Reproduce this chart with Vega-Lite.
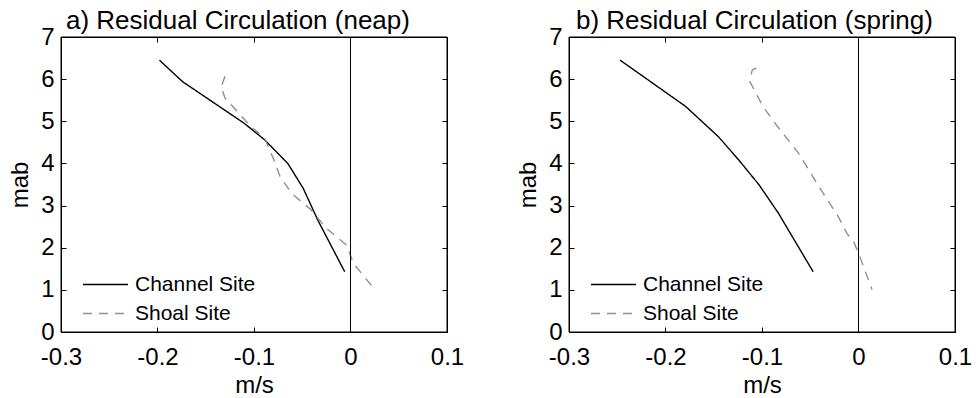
{
  "$schema": "https://vega.github.io/schema/vega-lite/v6.json",
  "background": "white",
  "padding": {"left": 8, "top": 7, "right": 0, "bottom": 0},
  "spacing": 122,
  "bounds": "flush",
  "config": {
    "font": "Liberation Sans",
    "axis": {
      "grid": false,
      "domainColor": "black",
      "tickColor": "black",
      "labelColor": "black",
      "titleColor": "black",
      "labelFont": "Liberation Sans",
      "titleFont": "Liberation Sans",
      "labelFontSize": 24,
      "titleFontSize": 24,
      "titleFontWeight": "normal",
      "tickSize": -5,
      "labelFlush": false,
      "labelOverlap": false,
      "labelBound": false
    },
    "legend": {
      "labelFont": "Liberation Sans",
      "labelFontSize": 21,
      "labelColor": "black"
    }
  },
  "datasets": {
    "box": [{"x0": -0.3, "x1": 0.1, "y0": 0, "y1": 7}],
    "profiles": [
      {"panel": "neap", "site": "Channel Site", "ms": -0.198, "mab": 6.45},
      {"panel": "neap", "site": "Channel Site", "ms": -0.174, "mab": 5.94},
      {"panel": "neap", "site": "Channel Site", "ms": -0.110, "mab": 4.95},
      {"panel": "neap", "site": "Channel Site", "ms": -0.089, "mab": 4.56},
      {"panel": "neap", "site": "Channel Site", "ms": -0.065, "mab": 4.0},
      {"panel": "neap", "site": "Channel Site", "ms": -0.049, "mab": 3.41},
      {"panel": "neap", "site": "Channel Site", "ms": -0.034, "mab": 2.66},
      {"panel": "neap", "site": "Channel Site", "ms": -0.006, "mab": 1.43},
      {"panel": "neap", "site": "Shoal Site", "ms": -0.130, "mab": 6.07},
      {"panel": "neap", "site": "Shoal Site", "ms": -0.134, "mab": 5.82},
      {"panel": "neap", "site": "Shoal Site", "ms": -0.130, "mab": 5.55},
      {"panel": "neap", "site": "Shoal Site", "ms": -0.103, "mab": 4.87},
      {"panel": "neap", "site": "Shoal Site", "ms": -0.089, "mab": 4.6},
      {"panel": "neap", "site": "Shoal Site", "ms": -0.080, "mab": 4.12},
      {"panel": "neap", "site": "Shoal Site", "ms": -0.073, "mab": 3.69},
      {"panel": "neap", "site": "Shoal Site", "ms": -0.061, "mab": 3.29},
      {"panel": "neap", "site": "Shoal Site", "ms": -0.041, "mab": 2.9},
      {"panel": "neap", "site": "Shoal Site", "ms": -0.025, "mab": 2.46},
      {"panel": "neap", "site": "Shoal Site", "ms": -0.004, "mab": 2.06},
      {"panel": "neap", "site": "Shoal Site", "ms": 0.003, "mab": 1.63},
      {"panel": "neap", "site": "Shoal Site", "ms": 0.025, "mab": 1.01},
      {"panel": "spring", "site": "Channel Site", "ms": -0.247, "mab": 6.45},
      {"panel": "spring", "site": "Channel Site", "ms": -0.179, "mab": 5.35},
      {"panel": "spring", "site": "Channel Site", "ms": -0.145, "mab": 4.63},
      {"panel": "spring", "site": "Channel Site", "ms": -0.124, "mab": 4.08},
      {"panel": "spring", "site": "Channel Site", "ms": -0.103, "mab": 3.49},
      {"panel": "spring", "site": "Channel Site", "ms": -0.083, "mab": 2.82},
      {"panel": "spring", "site": "Channel Site", "ms": -0.047, "mab": 1.43},
      {"panel": "spring", "site": "Shoal Site", "ms": -0.106, "mab": 6.27},
      {"panel": "spring", "site": "Shoal Site", "ms": -0.110, "mab": 6.22},
      {"panel": "spring", "site": "Shoal Site", "ms": -0.113, "mab": 5.96},
      {"panel": "spring", "site": "Shoal Site", "ms": -0.099, "mab": 5.35},
      {"panel": "spring", "site": "Shoal Site", "ms": -0.085, "mab": 4.91},
      {"panel": "spring", "site": "Shoal Site", "ms": -0.062, "mab": 4.24},
      {"panel": "spring", "site": "Shoal Site", "ms": -0.041, "mab": 3.45},
      {"panel": "spring", "site": "Shoal Site", "ms": -0.021, "mab": 2.74},
      {"panel": "spring", "site": "Shoal Site", "ms": -0.012, "mab": 2.34},
      {"panel": "spring", "site": "Shoal Site", "ms": -0.005, "mab": 2.14},
      {"panel": "spring", "site": "Shoal Site", "ms": 0.0, "mab": 1.87},
      {"panel": "spring", "site": "Shoal Site", "ms": 0.014, "mab": 1.01}
    ]
  },
  "hconcat": [
    {
      "width": 386,
      "height": 295,
      "title": {"text": "a) Residual Circulation (neap)", "fontSize": 26, "fontWeight": "normal", "color": "black", "anchor": "start", "frame": "group", "dx": 5, "offset": -9},
      "layer": [
        {
          "data": {"name": "box"},
          "mark": {"type": "rect", "filled": false, "stroke": "black", "strokeWidth": 1},
          "encoding": {
            "x": {"field": "x0", "type": "quantitative", "scale": {"domain": [-0.3, 0.1], "nice": false, "zero": false}, "axis": {"orient": "top", "values": [-0.3, -0.2, -0.1, 0, 0.1], "labels": false, "title": null}},
            "x2": {"field": "x1"},
            "y": {"field": "y0", "type": "quantitative", "scale": {"domain": [0, 7], "nice": false}, "axis": {"orient": "right", "values": [0, 1, 2, 3, 4, 5, 6, 7], "labels": false, "title": null}},
            "y2": {"field": "y1"}
          }
        },
        {
          "data": {"name": "profiles"},
          "transform": [{"filter": "datum.panel === 'neap'"}],
          "mark": {"type": "line", "strokeWidth": 1.4},
          "encoding": {
            "x": {"field": "ms", "type": "quantitative", "title": "m/s",
              "axis": {"orient": "bottom", "values": [-0.3, -0.2, -0.1, 0, 0.1], "labelPadding": 18, "titlePadding": 4, "labelExpr": "replace(format(datum.value, '.1~f'), '\u2212', '-')"}},
            "y": {"field": "mab", "type": "quantitative", "title": "mab",
              "axis": {"orient": "left", "values": [0, 1, 2, 3, 4, 5, 6, 7], "labelPadding": 12, "titlePadding": 8}},
            "color": {"field": "site", "type": "nominal",
              "scale": {"domain": ["Channel Site", "Shoal Site"], "range": ["black", "#909090"]},
              "legend": {"orient": "none", "legendX": 34, "legendY": 237, "title": null, "symbolType": "M-3,0H3", "symbolSize": 225, "symbolStrokeWidth": 1.5, "labelOffset": 19, "rowPadding": 7, "padding": 0}},
            "strokeDash": {"field": "site", "type": "nominal",
              "scale": {"domain": ["Channel Site", "Shoal Site"], "range": [[1, 0], [9, 7]]},
              "legend": {"orient": "none", "legendX": 34, "legendY": 237, "title": null, "symbolType": "M-3,0H3", "symbolSize": 225, "symbolStrokeWidth": 1.5, "labelOffset": 19, "rowPadding": 7, "padding": 0}},
            "order": {"field": "mab", "type": "quantitative", "sort": "descending"}
          }
        },
        {
          "data": {"values": [{"zero": 0}]},
          "mark": {"type": "rule", "color": "black", "strokeWidth": 1},
          "encoding": {
            "x": {"field": "zero", "type": "quantitative", "axis": null}
          }
        }
      ],
      "resolve": {"axis": {"x": "independent", "y": "independent"}}
    },
    {
      "width": 386,
      "height": 295,
      "title": {"text": "b) Residual Circulation (spring)", "fontSize": 26, "fontWeight": "normal", "color": "black", "anchor": "start", "frame": "group", "dx": 7, "offset": -9},
      "layer": [
        {
          "data": {"name": "box"},
          "mark": {"type": "rect", "filled": false, "stroke": "black", "strokeWidth": 1},
          "encoding": {
            "x": {"field": "x0", "type": "quantitative", "scale": {"domain": [-0.3, 0.1], "nice": false, "zero": false}, "axis": {"orient": "top", "values": [-0.3, -0.2, -0.1, 0, 0.1], "labels": false, "title": null}},
            "x2": {"field": "x1"},
            "y": {"field": "y0", "type": "quantitative", "scale": {"domain": [0, 7], "nice": false}, "axis": {"orient": "right", "values": [0, 1, 2, 3, 4, 5, 6, 7], "labels": false, "title": null}},
            "y2": {"field": "y1"}
          }
        },
        {
          "data": {"name": "profiles"},
          "transform": [{"filter": "datum.panel === 'spring'"}],
          "mark": {"type": "line", "strokeWidth": 1.4},
          "encoding": {
            "x": {"field": "ms", "type": "quantitative", "title": "m/s",
              "axis": {"orient": "bottom", "values": [-0.3, -0.2, -0.1, 0, 0.1], "labelPadding": 18, "titlePadding": 4, "labelExpr": "replace(format(datum.value, '.1~f'), '\u2212', '-')"}},
            "y": {"field": "mab", "type": "quantitative", "title": "mab",
              "axis": {"orient": "left", "values": [0, 1, 2, 3, 4, 5, 6, 7], "labelPadding": 12, "titlePadding": 8}},
            "color": {"field": "site", "type": "nominal",
              "scale": {"domain": ["Channel Site", "Shoal Site"], "range": ["black", "#909090"]},
              "legend": {"orient": "none", "legendX": 34, "legendY": 237, "title": null, "symbolType": "M-3,0H3", "symbolSize": 225, "symbolStrokeWidth": 1.5, "labelOffset": 19, "rowPadding": 7, "padding": 0}},
            "strokeDash": {"field": "site", "type": "nominal",
              "scale": {"domain": ["Channel Site", "Shoal Site"], "range": [[1, 0], [9, 7]]},
              "legend": {"orient": "none", "legendX": 34, "legendY": 237, "title": null, "symbolType": "M-3,0H3", "symbolSize": 225, "symbolStrokeWidth": 1.5, "labelOffset": 19, "rowPadding": 7, "padding": 0}},
            "order": {"field": "mab", "type": "quantitative", "sort": "descending"}
          }
        },
        {
          "data": {"values": [{"zero": 0}]},
          "mark": {"type": "rule", "color": "black", "strokeWidth": 1},
          "encoding": {
            "x": {"field": "zero", "type": "quantitative", "axis": null}
          }
        }
      ],
      "resolve": {"axis": {"x": "independent", "y": "independent"}}
    }
  ],
  "resolve": {"scale": {"color": "independent", "strokeDash": "independent"}}
}
